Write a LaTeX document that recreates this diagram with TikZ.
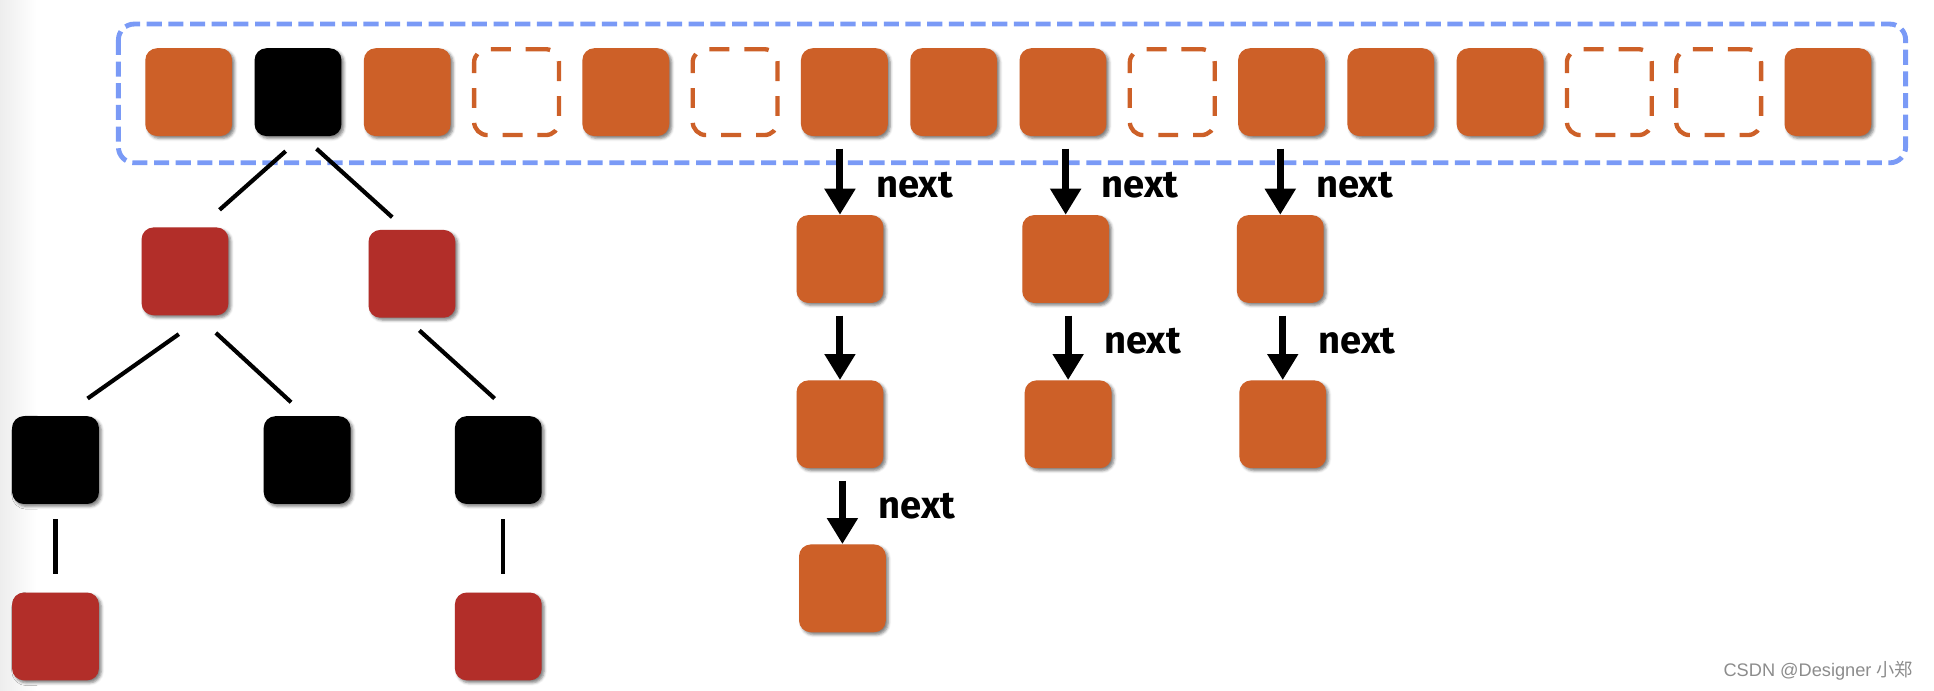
\documentclass[tikz,border=0pt]{standalone}
\usepackage{fontspec}
\setmainfont{Noto Sans}
\newfontfamily\lblfont{Fira Sans}[BoldFont={Fira Sans Bold}]
\newfontfamily\marquefont{Liberation Sans}
\newfontfamily\cjkfont{Noto Sans CJK SC}
\usetikzlibrary{arrows.meta,shadows.blur}
\definecolor{orangebox}{RGB}{205,96,40}
\definecolor{rougebox}{RGB}{178,46,41}
\definecolor{bleucadre}{RGB}{122,154,246}
\definecolor{grismarque}{RGB}{140,140,140}

\begin{document}
\begin{tikzpicture}[x=0.025cm, y=-0.025cm,
        boite/.style={rectangle, rounded corners=0.24cm, minimum width=1.76cm, minimum height=1.78cm, inner sep=0pt,
            blur shadow={shadow xshift=1.4pt, shadow yshift=-1.4pt, shadow blur radius=1.6pt, shadow opacity=50}},
        plein/.style={boite, fill=orangebox},
        noir/.style={boite, fill=black},
        rouge/.style={boite, fill=rougebox},
        vide/.style={rectangle, rounded corners=0.27cm, minimum width=1.72cm, minimum height=1.74cm, inner sep=0pt,
            draw=orangebox, line width=2.5pt, dash pattern=on 11.5pt off 8.6pt},
        lien/.style={line width=2.4pt},
        fleche/.style={line width=4pt, -{Triangle[width=17pt,length=15pt]}},
        lbl/.style={font=\lblfont\bfseries\fontsize{22}{26}\selectfont, inner sep=0pt}]
        % Fond gris à gauche (capture)
        \shade[left color=black!7, right color=white] (0,0) rectangle (30,560);
        \useasboundingbox (0,0) rectangle (1568,560);
        % Cadre du tableau
        \draw[bleucadre, line width=2.8pt, dash pattern=on 8.7pt off 3.8pt, rounded corners=0.32cm] (96,19.5) rectangle (1545,132);
        % Cases du tableau
        \foreach \i/\genre in {1/plein,2/noir,3/plein,4/vide,5/plein,6/vide,7/plein,8/plein,
                9/plein,10/vide,11/plein,12/plein,13/plein,14/vide,15/vide,16/plein}
            \node[\genre] (t\i) at ({153+88.6*(\i-1)},74.7) {};
        % Arbre rouge-noir
        \node[rouge] (a1) at (150,220) {};
        \node[rouge] (a2) at (334,222) {};
        \node[noir] (b1) at (45,373) {};
        \node[noir] (b2) at (249,373) {};
        \node[noir] (b3) at (404,373) {};
        \node[rouge] (c1) at (45,516) {};
        \node[rouge] (c3) at (404,516) {};
        \draw[lien] ([shift={(-10,12)}]t2.south) -- ([shift={(28,-14)}]a1.north);
        \draw[lien] ([shift={(15,10)}]t2.south) -- ([shift={(-16,-10)}]a2.north);
        \draw[lien] ([shift={(-5,15)}]a1.south) -- ([shift={(26,-14)}]b1.north);
        \draw[lien] ([shift={(25,14)}]a1.south) -- ([shift={(-13,-11)}]b2.north);
        \draw[lien] ([shift={(6,10)}]a2.south) -- ([shift={(-3,-14)}]b3.north);
        \draw[lien] ([shift={(0,12)}]b1.south) -- ([shift={(0,-15)}]c1.north);
        \draw[lien] ([shift={(4,12)}]b3.south) -- ([shift={(4,-15)}]c3.north);
        % Listes chaînées
        \node[plein] (l11) at (681,210) {};
        \node[plein] (l12) at (681,344) {};
        \node[plein] (l13) at (683,477) {};
        \node[plein] (l21) at (864,210) {};
        \node[plein] (l22) at (866,344) {};
        \node[plein] (l31) at (1038,210) {};
        \node[plein] (l32) at (1040,344) {};
        \draw[fleche] ([yshift=-0.25cm]t7.south -| l11) -- (l11.north) node[lbl, pos=0.55, right=0.66cm] {next};
        \draw[fleche] ([yshift=-0.25cm]l11.south -| l12) -- (l12.north);
        \draw[fleche] ([yshift=-0.25cm]l12.south -| l13) -- (l13.north) node[lbl, pos=0.4, right=0.66cm] {next};
        \draw[fleche] ([yshift=-0.25cm]t9.south -| l21) -- (l21.north) node[lbl, pos=0.55, right=0.66cm] {next};
        \draw[fleche] ([yshift=-0.25cm]l21.south -| l22) -- (l22.north) node[lbl, pos=0.4, right=0.66cm] {next};
        \draw[fleche] ([yshift=-0.25cm]t11.south -| l31) -- (l31.north) node[lbl, pos=0.55, right=0.66cm] {next};
        \draw[fleche] ([yshift=-0.25cm]l31.south -| l32) -- (l32.north) node[lbl, pos=0.4, right=0.66cm] {next};
        % Filigrane
        \node[anchor=east, text=grismarque, font=\marquefont\fontsize{10.5}{12}\selectfont] (marque) at (1556,544) {CSDN @Designer {\cjkfont 小郑}};
    \end{tikzpicture}
\end{document}
